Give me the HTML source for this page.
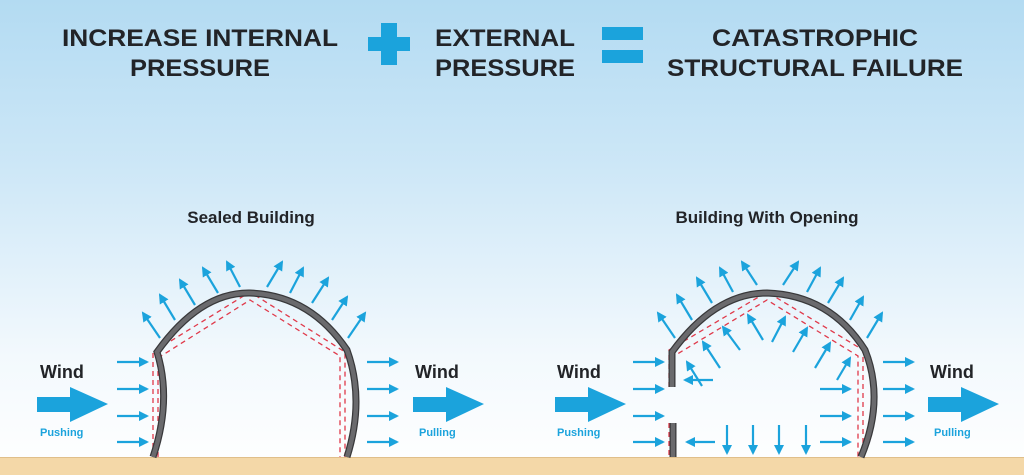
<!DOCTYPE html>
<html><head><meta charset="utf-8"><style>
html,body{margin:0;padding:0;width:1024px;height:475px;overflow:hidden}
svg{display:block}
text{font-family:"Liberation Sans",sans-serif;font-weight:bold}
</style></head><body>
<svg width="1024" height="475" viewBox="0 0 1024 475" xmlns="http://www.w3.org/2000/svg">
<defs>
<linearGradient id="bg" x1="0" y1="0" x2="0" y2="1">
<stop offset="0" stop-color="#b3dbf2"/><stop offset="0.35" stop-color="#cde7f7"/><stop offset="0.75" stop-color="#f3f9fd"/><stop offset="1" stop-color="#ffffff"/>
</linearGradient>
<marker id="ah" viewBox="0 0 10 10" refX="8" refY="5" markerWidth="4.6" markerHeight="4.6" orient="auto" markerUnits="strokeWidth">
<path d="M0,0 L10,5 L0,10 z" fill="#1ba3dc"/></marker>
</defs>
<rect width="1024" height="475" fill="url(#bg)"/>
<rect y="457" width="1024" height="18" fill="#f4d8a8"/>
<line x1="0" y1="457.5" x2="1024" y2="457.5" stroke="#e0bf8a" stroke-width="1"/>

<g fill="#222428" font-size="24">
<text x="200" y="46" text-anchor="middle" textLength="276" lengthAdjust="spacingAndGlyphs">INCREASE INTERNAL</text>
<text x="200" y="76" text-anchor="middle" textLength="140" lengthAdjust="spacingAndGlyphs">PRESSURE</text>
<text x="505" y="46" text-anchor="middle" textLength="140" lengthAdjust="spacingAndGlyphs">EXTERNAL</text>
<text x="505" y="76" text-anchor="middle" textLength="140" lengthAdjust="spacingAndGlyphs">PRESSURE</text>
<text x="815" y="46" text-anchor="middle" textLength="206" lengthAdjust="spacingAndGlyphs">CATASTROPHIC</text>
<text x="815" y="76" text-anchor="middle" textLength="296" lengthAdjust="spacingAndGlyphs">STRUCTURAL FAILURE</text>
</g>
<g fill="#1ba3dc">
<rect x="381" y="23" width="16" height="42"/><rect x="368" y="37" width="42" height="14"/>
<rect x="602" y="27" width="41" height="13"/><rect x="602" y="50" width="41" height="13"/>
</g>

<g fill="#222428" font-size="17">
<text x="251" y="223" text-anchor="middle">Sealed Building</text>
<text x="767" y="223" text-anchor="middle">Building With Opening</text>
<text x="40" y="378" font-size="18">Wind</text>
<text x="415" y="378" font-size="18">Wind</text>
<text x="557" y="378" font-size="18">Wind</text>
<text x="930" y="378" font-size="18">Wind</text>
</g>
<g fill="#1ba3dc" font-size="11">
<text x="40" y="436">Pushing</text>
<text x="419" y="436">Pulling</text>
<text x="557" y="436">Pushing</text>
<text x="934" y="436">Pulling</text>
</g>
<g fill="#1ba3dc">
<path d="M37,397 H70 V387 L108,404 L70,422 V412 H37 Z"/>
<path transform="translate(376,0)" d="M37,397 H70 V387 L108,404 L70,422 V412 H37 Z"/>
<path transform="translate(518,0)" d="M37,397 H70 V387 L108,404 L70,422 V412 H37 Z"/>
<path transform="translate(891,0)" d="M37,397 H70 V387 L108,404 L70,422 V412 H37 Z"/>
</g>

<g fill="none" stroke="#e0394a" stroke-width="1.3" stroke-dasharray="5,4">
<path d="M153,457 V352 L250,292 L345,352 V457"/>
<path d="M158,457 V358 L250,300 L340,356 V457"/>
</g>
<path d="M153,457 Q172,400 157,352 Q200,292 250,293 Q310,295 347,350 Q365,400 347,457" fill="none" stroke="#38383a" stroke-width="7"/>
<path d="M153,457 Q172,400 157,352 Q200,292 250,293 Q310,295 347,350 Q365,400 347,457" fill="none" stroke="#6a6a6d" stroke-width="4.5"/>

<g fill="none" stroke="#e0394a" stroke-width="1.3" stroke-dasharray="5,4">
<path d="M669,387 V350 L767,292 L863,350 V457"/>
<path d="M674,387 V356 L767,300 L858,356 V457"/>
<path d="M669,423 V457 M674,423 V457"/>
</g>
<g fill="none" stroke="#38383a" stroke-width="7">
<path d="M672,387 V352 Q715,293 767,293 Q830,295 865,350 Q885,400 861,457"/>
<path d="M673,423 V457"/>
</g>
<g fill="none" stroke="#6a6a6d" stroke-width="4.5">
<path d="M672,387 V352 Q715,293 767,293 Q830,295 865,350 Q885,400 861,457"/>
<path d="M673,423 V457"/>
</g>

<g stroke="#1ba3dc" stroke-width="2.2" fill="none" marker-end="url(#ah)">
<path d="M160,338 L143,313"/><path d="M175,320 L160,295"/><path d="M195,305 L180,280"/><path d="M218,293 L203,268"/><path d="M240,287 L227,262"/>
<path d="M267,287 L282,262"/><path d="M290,293 L303,268"/><path d="M312,303 L328,278"/><path d="M332,320 L347,297"/><path d="M348,338 L365,313"/>
<path d="M117,362 H147"/><path d="M117,389 H147"/><path d="M117,416 H147"/><path d="M117,442 H147"/>
<path d="M367,362 H397"/><path d="M367,389 H397"/><path d="M367,416 H397"/><path d="M367,442 H397"/>
<path d="M675,338 L658,313"/><path d="M692,320 L677,295"/><path d="M712,303 L697,278"/><path d="M733,292 L720,268"/><path d="M757,285 L742,262"/>
<path d="M783,285 L798,262"/><path d="M807,292 L820,268"/><path d="M828,303 L843,278"/><path d="M850,320 L863,297"/><path d="M867,338 L882,313"/>
<path d="M633,362 H663"/><path d="M633,389 H663"/><path d="M633,416 H663"/><path d="M633,442 H663"/>
<path d="M883,362 H913"/><path d="M883,389 H913"/><path d="M883,416 H913"/><path d="M883,442 H913"/>
<path d="M720,368 L703,342"/><path d="M740,350 L723,327"/><path d="M763,340 L748,315"/><path d="M772,342 L785,317"/>
<path d="M793,352 L807,328"/><path d="M815,368 L830,343"/><path d="M837,380 L850,358"/><path d="M702,386 L687,362"/>
<path d="M713,380 H685"/><path d="M715,442 H687"/>
<path d="M727,425 V453"/><path d="M753,425 V453"/><path d="M779,425 V453"/><path d="M806,425 V453"/>
<path d="M820,389 H850"/><path d="M820,416 H850"/><path d="M820,442 H850"/>
</g>
</svg>
</body></html>
